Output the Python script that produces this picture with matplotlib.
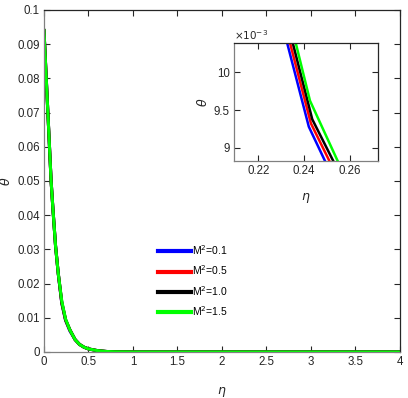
import matplotlib
matplotlib.use("Agg")
import matplotlib.pyplot as plt
from matplotlib.ticker import FuncFormatter

plt.rcParams['font.family'] = ['Liberation Sans', 'DejaVu Sans']
plt.rcParams['mathtext.fontset'] = 'dejavusans'

# values
labels = ["M$^2$=0.1", "M$^2$=0.5", "M$^2$=1.0", "M$^2$=1.5"]
colors = ["#0000ff", "#ff0000", "#000000", "#00ff00"]

eta_head = [0.0, 0.02, 0.04, 0.06, 0.08, 0.10, 0.13, 0.16]
theta_head = [0.094, 0.083, 0.072, 0.061, 0.050, 0.042, 0.031, 0.023]

# per-series points around the kink seen in the zoomed window
eta_mid = [
    [0.20, 0.2420, 0.29],
    [0.20, 0.2429, 0.29],
    [0.20, 0.2435, 0.29],
    [0.20, 0.2425, 0.29],
]
theta_mid = [
    [0.01420, 0.009281, 0.00620],
    [0.01433, 0.009326, 0.00642],
    [0.01454, 0.009379, 0.00658],
    [0.01485, 0.009625, 0.00649],
]

eta_tail = [0.35, 0.40, 0.45, 0.50, 0.60, 0.70, 0.80, 1.0, 2.0, 3.0, 4.0]
theta_tail = [0.0036, 0.0022, 0.0014, 0.0009, 0.0004, 0.00015, 0.00005, 0.0, 0.0, 0.0, 0.0]

x_ticks = [0, 0.5, 1, 1.5, 2, 2.5, 3, 3.5, 4]
y_ticks = [0, 0.01, 0.02, 0.03, 0.04, 0.05, 0.06, 0.07, 0.08, 0.09, 0.1]
inset_x_ticks = [0.22, 0.24, 0.26]
inset_y_ticks = [0.009, 0.0095, 0.010]

txt = "#262626"
grey = "#808080"


def style_axes(ax, size):
    ax.tick_params(direction="in", top=True, right=True, length=4, width=0.8,
                   labelsize=size, colors=txt, pad=3)
    for side in ["left", "bottom"]:
        ax.spines[side].set_color(grey)
    for side in ["top", "right"]:
        ax.spines[side].set_color(txt)
    for s in ax.spines.values():
        s.set_linewidth(0.9)


fig = plt.figure(figsize=(4.08, 3.98), dpi=100)
ax = fig.add_axes([0.1078, 0.1156, 0.8725, 0.8594])

for i in range(4):
    e = eta_head + eta_mid[i] + eta_tail
    t = theta_head + theta_mid[i] + theta_tail
    ax.plot(e, t, color=colors[i], lw=2.2, label=labels[i])

ax.set_xlim(0, 4)
ax.set_ylim(0, 0.1)
ax.set_xticks(x_ticks)
ax.set_yticks(y_ticks)
ax.xaxis.set_major_formatter(FuncFormatter(lambda v, p: f"{v:g}"))
ax.yaxis.set_major_formatter(FuncFormatter(lambda v, p: f"{v:g}"))
style_axes(ax, 8.3)
ax.set_xlabel(r"$\eta$", fontsize=9, color=txt, labelpad=12)
ax.set_ylabel(r"$\theta$", fontsize=9, color=txt, labelpad=3)

leg = ax.legend(loc="upper left", bbox_to_anchor=(0.305, 0.333), frameon=False,
                fontsize=7.5, handlelength=3.2, handletextpad=0.05,
                labelspacing=0.62, borderpad=0)
for l in leg.get_lines():
    l.set_linewidth(3)

# zoomed window
axi = fig.add_axes([0.5735, 0.5962, 0.3522, 0.2958])
for i in range(4):
    e = eta_head + eta_mid[i] + eta_tail
    t = theta_head + theta_mid[i] + theta_tail
    axi.plot(e, t, color=colors[i], lw=1.8)
axi.set_xlim(0.2094, 0.272)
axi.set_ylim(0.008832, 0.010387)
axi.set_xticks(inset_x_ticks)
axi.set_yticks(inset_y_ticks)
axi.xaxis.set_major_formatter(FuncFormatter(lambda v, p: f"{v:g}"))
axi.yaxis.set_major_formatter(FuncFormatter(lambda v, p: f"{v * 1e3:g}"))
style_axes(axi, 8.3)
axi.set_xlabel(r"$\eta$", fontsize=9, color=txt, labelpad=10)
axi.set_ylabel(r"$\theta$", fontsize=9, color=txt, labelpad=3)
axi.text(0.0, 1.01, r"$\times10^{-3}$", transform=axi.transAxes, fontsize=7.5,
         color=txt, ha="left", va="bottom")

fig.savefig("out.png", dpi=100)
